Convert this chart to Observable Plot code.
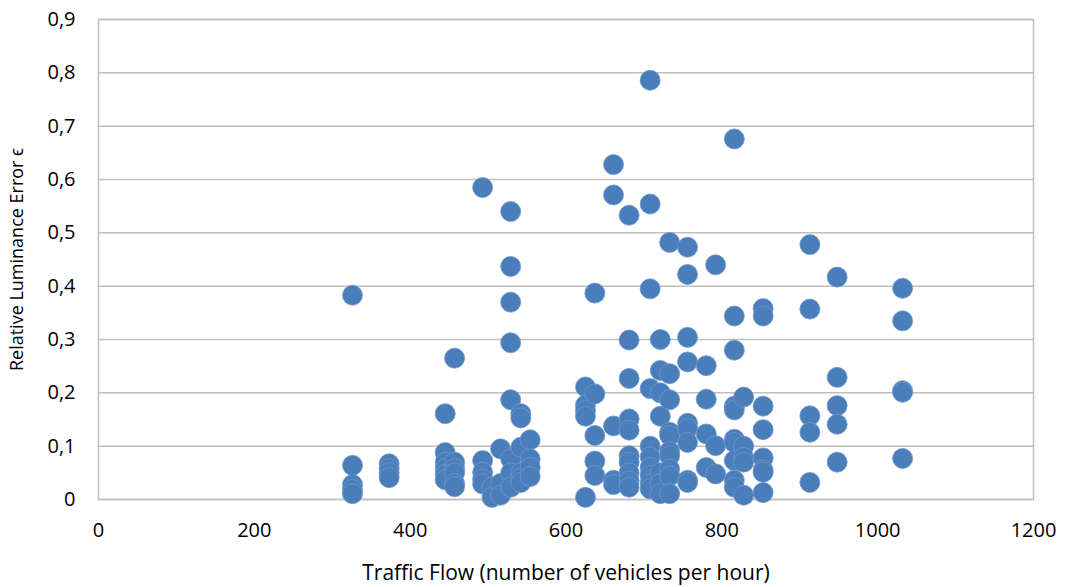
<!DOCTYPE html>
<html>
<head>
<meta charset="utf-8">
<script src="https://cdn.jsdelivr.net/npm/d3@7"></script>
<script src="https://cdn.jsdelivr.net/npm/@observablehq/plot@0.6"></script>
<style>
  html, body { margin: 0; padding: 0; background: #fff; }
  #chart svg { display: block; }
</style>
</head>
<body>
<div id="chart"></div>
<script>
// Traffic flow (vehicles per hour) measured at each site, one entry per column of points
const flows = [326, 373, 445, 457, 493, 505, 516, 529, 542, 554, 625, 637, 661, 681,
               708, 721, 733, 756, 780, 792, 816, 828, 853, 913, 948, 1032];

// Relative luminance errors observed at each traffic flow value (same order as flows)
const errors = [
  [0.383, 0.064, 0.028, 0.019, 0.011],
  [0.067, 0.058, 0.050, 0.041],
  [0.161, 0.088, 0.070, 0.058, 0.047, 0.037],
  [0.265, 0.070, 0.058, 0.050, 0.030, 0.024],
  [0.585, 0.073, 0.051, 0.038, 0.029],
  [0.023, 0.004],
  [0.095, 0.030, 0.008],
  [0.540, 0.437, 0.370, 0.294, 0.187, 0.076, 0.050, 0.023],
  [0.161, 0.153, 0.098, 0.050, 0.040, 0.032],
  [0.112, 0.076, 0.060, 0.043],
  [0.211, 0.177, 0.167, 0.156, 0.004],
  [0.387, 0.198, 0.120, 0.072, 0.045],
  [0.628, 0.571, 0.138, 0.036, 0.028],
  [0.533, 0.299, 0.227, 0.151, 0.130, 0.082, 0.070, 0.050, 0.035, 0.023],
  [0.786, 0.554, 0.395, 0.208, 0.100, 0.080, 0.060, 0.045, 0.030, 0.020],
  [0.300, 0.242, 0.200, 0.156, 0.050, 0.030, 0.011],
  [0.482, 0.236, 0.187, 0.126, 0.120, 0.090, 0.082, 0.057, 0.044, 0.011],
  [0.473, 0.422, 0.304, 0.258, 0.143, 0.133, 0.107, 0.036, 0.032],
  [0.251, 0.188, 0.123, 0.060],
  [0.440, 0.101, 0.048],
  [0.676, 0.344, 0.280, 0.175, 0.168, 0.113, 0.107, 0.073, 0.036, 0.023],
  [0.192, 0.100, 0.079, 0.070, 0.008],
  [0.358, 0.344, 0.175, 0.131, 0.078, 0.055, 0.051, 0.013],
  [0.478, 0.357, 0.157, 0.126, 0.032],
  [0.417, 0.229, 0.176, 0.141, 0.070],
  [0.396, 0.335, 0.204, 0.201, 0.077]
];

const xTicks = [0, 200, 400, 600, 800, 1000, 1200];
const yTicks = [0, 0.1, 0.2, 0.3, 0.4, 0.5, 0.6, 0.7, 0.8, 0.9];

// Flatten into one row per observation
const points = flows.flatMap((flow, i) => errors[i].map(err => ({flow, err})));

// Decimal comma on the error axis, plain integers on the flow axis
const commaFormat = d => d === 0 ? "0" : d3.format(".1f")(d).replace(".", ",");
const intFormat = d => String(d);

const chart = Plot.plot({
  width: 1068,
  height: 587,
  marginLeft: 98,
  marginRight: 35,
  marginTop: 19,
  marginBottom: 88,
  style: {fontFamily: "'Open Sans', sans-serif", fontSize: "18px", color: "#000", background: "#fff"},
  x: {domain: [0, 1200], ticks: xTicks},
  y: {domain: [0, 0.9], ticks: yTicks},
  marks: [
    Plot.gridY(yTicks, {stroke: "#bfbfbf", strokeOpacity: 1, strokeWidth: 1.5}),
    Plot.frame({stroke: "#bfbfbf", strokeWidth: 1.5}),
    Plot.axisX(xTicks, {tickSize: 0, tickPadding: 23, fontSize: 20, fill: "#000",
      tickFormat: intFormat, label: null}),
    Plot.axisX({tickSize: 0, ticks: [], fontSize: 21, fill: "#000",
      label: "Traffic Flow (number of vehicles per hour)", labelAnchor: "center",
      labelArrow: "none", labelOffset: 80}),
    Plot.axisY(yTicks, {tickSize: 0, tickPadding: 23, fontSize: 20, fill: "#000",
      tickFormat: commaFormat, label: null}),
    Plot.axisY({tickSize: 0, ticks: [], fontSize: 18, fill: "#000",
      label: "Relative Luminance Error \u03f5", labelAnchor: "center",
      labelArrow: "none", labelOffset: 88}),
    Plot.dot(points, {x: "flow", y: "err", r: 10, fill: "#4a7ebb", stroke: "#6f97c8", strokeWidth: 0.8})
  ]
});

document.getElementById("chart").appendChild(chart);
</script>
</body>
</html>
